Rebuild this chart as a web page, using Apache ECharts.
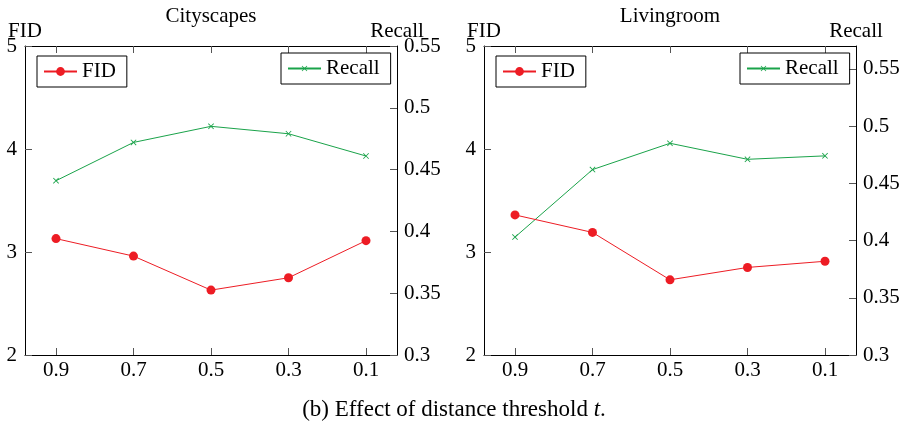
<!DOCTYPE html>
<html>
<head>
<meta charset="utf-8">
<script src="https://cdn.jsdelivr.net/npm/echarts@6/dist/echarts.min.js"></script>
<style>html,body{margin:0;padding:0;background:#fff;}#c{width:906px;height:429px;}</style>
</head>
<body>
<div id="c"></div>
<script>
// ---- data ----
const thresholds = [0.9, 0.7, 0.5, 0.3, 0.1];
const cityFID = [3.13, 2.96, 2.63, 2.75, 3.11];
const cityRecall = [0.441, 0.472, 0.485, 0.479, 0.461];
const livingFID = [3.36, 3.19, 2.73, 2.85, 2.91];
const livingRecall = [0.403, 0.462, 0.485, 0.471, 0.474];
const fidTicks = [2, 3, 4, 5];
const recallTicks = [0.3, 0.35, 0.4, 0.45, 0.5, 0.55];
const titles = ['Cityscapes', 'Livingroom'];
const caption = '(b) Effect of distance threshold {i|t}.';

const FONT = "'Liberation Serif', 'Times New Roman', serif";
const FS = 21;
const CAP_FS = 23;
const RED = '#ed1c24';
const GREEN = '#1aa34a';
const CROSS = 'path://M0,1L1,0L5,4L9,0L10,1L6,5L10,9L9,10L5,6L1,10L0,9L4,5Z';

const grids = [
  {left: 25, top: 46, width: 372, height: 309},
  {left: 484, top: 46, width: 372, height: 309}
];
const recallMax = [0.55, 0.57];

const pair = (xs, ys) => xs.map((x, i) => [x, ys[i]]);
const fmt = v => String(+(+v).toFixed(2));

const xAxes = [], yAxes = [], series = [], legends = [], titleArr = [];
grids.forEach((g, gi) => {
  xAxes.push({
    type: 'value', gridIndex: gi, position: 'bottom', inverse: true,
    min: 0.02, max: 0.98,
    axisLine: {show: true, lineStyle: {color: '#000', width: 1}},
    axisTick: {show: true, inside: true, length: 7, customValues: thresholds, lineStyle: {color: '#555'}},
    axisLabel: {show: true, customValues: thresholds, formatter: v => (+v).toFixed(1),
      fontFamily: FONT, fontSize: FS, color: '#000', margin: 5},
    splitLine: {show: false}
  });
  xAxes.push({
    type: 'value', gridIndex: gi, position: 'top', inverse: true,
    min: 0.02, max: 0.98,
    axisLine: {show: true, lineStyle: {color: '#000', width: 1}},
    axisTick: {show: true, inside: true, length: 7, customValues: thresholds, lineStyle: {color: '#555'}},
    axisLabel: {show: false},
    splitLine: {show: false}
  });
  yAxes.push({
    type: 'value', gridIndex: gi, position: 'left',
    min: 2, max: 5, interval: 1,
    name: 'FID', nameLocation: 'end', nameGap: 15, nameMoveOverlap: false,
    nameTextStyle: {fontFamily: FONT, fontSize: FS, color: '#000', align: 'center', verticalAlign: 'middle'},
    axisLine: {show: true, lineStyle: {color: '#000', width: 1}},
    axisTick: {show: true, inside: true, length: 7, customValues: fidTicks, lineStyle: {color: '#555'}},
    axisLabel: {show: true, customValues: fidTicks, formatter: fmt,
      fontFamily: FONT, fontSize: FS, color: '#000', margin: 8},
    splitLine: {show: false}
  });
  yAxes.push({
    type: 'value', gridIndex: gi, position: 'right',
    min: 0.3, max: recallMax[gi],
    name: 'Recall', nameLocation: 'end', nameGap: 15, nameMoveOverlap: false,
    nameTextStyle: {fontFamily: FONT, fontSize: FS, color: '#000', align: 'center', verticalAlign: 'middle'},
    axisLine: {show: true, lineStyle: {color: '#000', width: 1}},
    axisTick: {show: true, inside: true, length: 7, customValues: recallTicks, lineStyle: {color: '#555'}},
    axisLabel: {show: true, customValues: recallTicks, formatter: fmt,
      fontFamily: FONT, fontSize: FS, color: '#000', margin: 7},
    splitLine: {show: false}
  });
  const fid = gi === 0 ? cityFID : livingFID;
  const rec = gi === 0 ? cityRecall : livingRecall;
  series.push({
    name: 'FID', type: 'line', xAxisIndex: gi * 2, yAxisIndex: gi * 2,
    data: pair(thresholds, fid), symbol: 'circle', symbolSize: 9,
    itemStyle: {color: RED}, lineStyle: {color: RED, width: 1}, animation: false, z: 3
  });
  series.push({
    name: 'Recall', type: 'line', xAxisIndex: gi * 2, yAxisIndex: gi * 2 + 1,
    data: pair(thresholds, rec), symbol: CROSS, symbolSize: 6,
    itemStyle: {color: GREEN}, lineStyle: {color: GREEN, width: 1}, animation: false, z: 2
  });
  legends.push({
    data: ['FID'], left: g.left + 12, top: 56,
    orient: 'horizontal', itemWidth: 33, itemHeight: 11,
    padding: [5, 11, 5, 6], borderColor: '#000', borderWidth: 1,
    textStyle: {fontFamily: FONT, fontSize: FS, color: '#000'}, selectedMode: false
  });
  legends.push({
    data: ['Recall'], left: g.left + g.width - 8 - 108, top: 53,
    orient: 'horizontal', itemWidth: 33, itemHeight: 7,
    padding: [5, 11, 5, 6], borderColor: '#000', borderWidth: 1,
    textStyle: {fontFamily: FONT, fontSize: FS, color: '#000'}, selectedMode: false
  });
  titleArr.push({
    text: titles[gi], left: g.left + g.width / 2, top: 6, textAlign: 'center', padding: 0,
    textStyle: {fontFamily: FONT, fontSize: FS, fontWeight: 'normal', color: '#000'}
  });
});
titleArr.push({
  text: caption, left: 454, top: 398, textAlign: 'center', padding: 0,
  textStyle: {fontFamily: FONT, fontSize: CAP_FS, fontWeight: 'normal', color: '#000',
    rich: {i: {fontFamily: FONT, fontSize: CAP_FS, fontStyle: 'italic', color: '#000'}}}
});

const chart = echarts.init(document.getElementById('c'), null, {renderer: 'canvas'});
chart.setOption({
  backgroundColor: '#fff',
  animation: false,
  title: titleArr,
  grid: grids,
  xAxis: xAxes,
  yAxis: yAxes,
  legend: legends,
  series: series
});
</script>
</body>
</html>
